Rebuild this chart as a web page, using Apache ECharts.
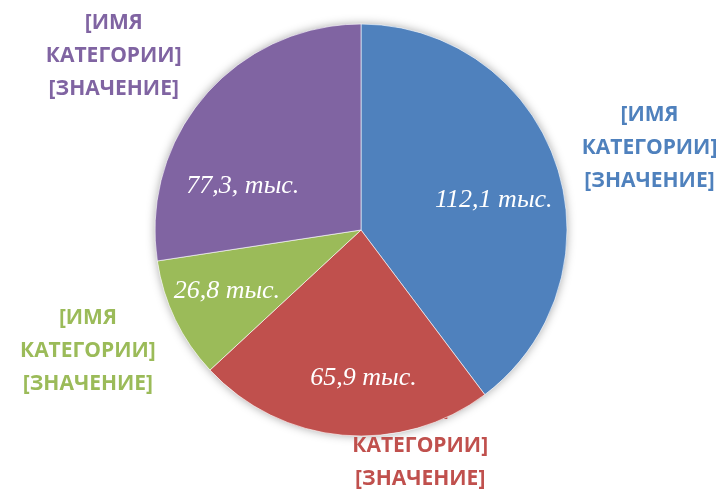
<!DOCTYPE html>
<html>
<head>
<meta charset="utf-8">
<script src="https://cdn.jsdelivr.net/npm/echarts@6/dist/echarts.min.js"></script>
<style>
html,body{margin:0;padding:0;background:#fff;}
#chart{width:722px;height:495px;}
</style>
</head>
<body>
<div id="chart"></div>
<script>
// данные диаграммы
var categories = ['Категория 1', 'Категория 2', 'Категория 3', 'Категория 4'];
var values = [112.1, 65.9, 26.8, 77.3];
var valueLabels = ['112,1 тыс.', '65,9 тыс.', '26,8 тыс.', '77,3, тыс.'];
var outerLabels = ['[ИМЯ\nКАТЕГОРИИ]\n[ЗНАЧЕНИЕ]', '[ИМЯ\nКАТЕГОРИИ]\n[ЗНАЧЕНИЕ]',
                   '[ИМЯ\nКАТЕГОРИИ]\n[ЗНАЧЕНИЕ]', '[ИМЯ\nКАТЕГОРИИ]\n[ЗНАЧЕНИЕ]'];
var colors = ['#4F81BD', '#C0504D', '#9BBB59', '#8064A2'];

// сдвиги подписей (dx, dy)
var innerShift = [[0, 15], [15, 9], [-8, 0], [-12, 47]];
var outerShift = [[3, 13], [86, -84], [-2, -10], [-19, 22]];

var myChart = echarts.init(document.getElementById('chart'));
var center = [361, 230];
var total = values.reduce(function(a, b){ return a + b; }, 0);

function makeData(labelColor){
	return values.map(function(v, i){
		return {
			value: v,
			name: categories[i],
			label: labelColor ? {color: colors[i]} : undefined
		};
	});
}

var option = {
	animation: false,
	color: colors,
	series: [
	{   // тень под кругом
		type: 'pie',
		center: center,
		radius: 206,
		z: 1,
		silent: true,
		label: {show: false},
		itemStyle: {color: '#fff', shadowBlur: 10, shadowColor: 'rgba(0,0,0,0.35)'},
		data: [{value: total, name: 'shadow'}]
	},
	{   // внешние подписи (под кругом)
		type: 'pie',
		center: center,
		radius: [290, 306],
		z: 2,
		silent: true,
		itemStyle: {color: 'rgba(0,0,0,0)'},
		label: {
			show: true,
			position: 'inside',
			formatter: function(p){ return outerLabels[p.dataIndex]; },
			fontFamily: 'Open Sans',
			fontWeight: 'bold',
			fontSize: 21,
			lineHeight: 33,
			align: 'center'
		},
		labelLayout: function(p){
			return {dx: outerShift[p.dataIndex][0], dy: outerShift[p.dataIndex][1]};
		},
		data: makeData(true)
	},
	{   // круг
		type: 'pie',
		center: center,
		radius: 206,
		z: 3,
		silent: true,
		label: {show: false},
		itemStyle: {borderColor: 'rgba(255,255,255,0.6)', borderWidth: 1},
		data: makeData(false)
	},
	{   // значения внутри
		type: 'pie',
		center: center,
		radius: [130, 144],
		z: 4,
		silent: true,
		itemStyle: {color: 'rgba(0,0,0,0)'},
		label: {
			show: true,
			position: 'inside',
			formatter: function(p){ return valueLabels[p.dataIndex]; },
			fontFamily: 'Liberation Serif',
			fontStyle: 'italic',
			fontSize: 26,
			color: '#fff'
		},
		labelLayout: function(p){
			return {dx: innerShift[p.dataIndex][0], dy: innerShift[p.dataIndex][1]};
		},
		data: makeData(false)
	}]
};
myChart.setOption(option);
</script>
</body>
</html>
